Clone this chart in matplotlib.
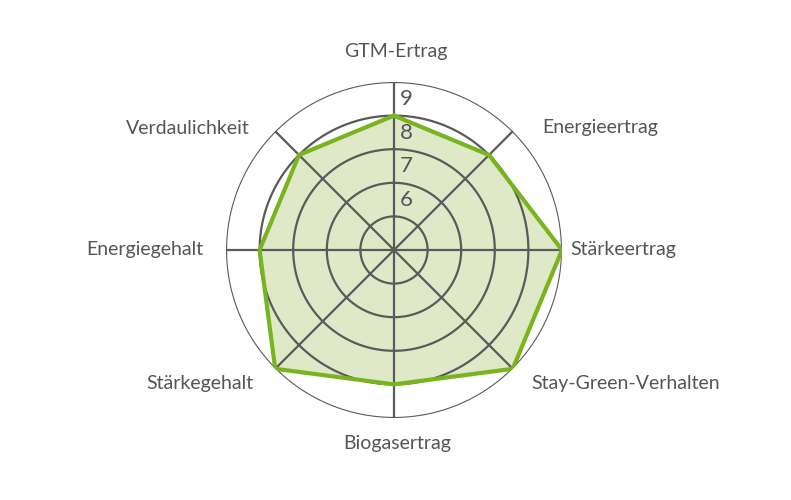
import numpy as np
from matplotlib import pyplot as plt

categories = ["GTM-Ertrag", "Energieertrag", "Stärkeertrag", "Stay-Green-Verhalten",
              "Biogasertrag", "Stärkegehalt", "Energiegehalt", "Verdaulichkeit"]
values = [8, 8, 9, 9, 8, 9, 8, 8]
ring_values = [5, 6, 7, 8, 9]
tick_labels = ["6", "7", "8", "9"]

plt.rcParams["font.family"] = ["Lato", "DejaVu Sans"]
text_color = "#555555"
grid_color = "#5a5a5a"

fig = plt.figure(figsize=(7.91, 5), dpi=100)
ax = fig.add_axes([0.2857, 0.164, 0.4248, 0.672], projection="polar")
ax.set_theta_zero_location("N")
ax.set_theta_direction(-1)
ax.set_ylim(4, 9)
ax.axis("off")

angles = np.linspace(0, 2 * np.pi, len(categories), endpoint=False)

# rings and spokes
circle = np.linspace(0, 2 * np.pi, 400)
for r in ring_values:
    ax.plot(circle, [r] * len(circle), color=grid_color, lw=1.6, zorder=3)
for a in angles:
    ax.plot([a, a], [4, 9], color=grid_color, lw=1.6, zorder=3)

# data polygon
a_closed = np.append(angles, angles[0])
v_closed = values + values[:1]
ax.fill(a_closed, v_closed, color="#dfe9c8", zorder=1)
ax.plot(a_closed, v_closed, color="#78b41e", lw=3, zorder=4, solid_joinstyle="miter")

# scale labels on the top spoke
for lab in tick_labels:
    val = float(lab) - 0.5
    ax.text(0.18 / (val - 4), val, lab, color=text_color, fontsize=16,
            ha="left", va="center", zorder=5)

# category labels
label_pos = [(396, 52), (600, 128), (623, 250), (626, 383),
             (397, 444), (200, 383), (145, 250), (188, 128)]
for name, (x, y) in zip(categories, label_pos):
    fig.text(x / 791, 1 - y / 500, name, color=text_color, fontsize=14,
             ha="center", va="center")

plt.savefig("out.png", dpi=100)
